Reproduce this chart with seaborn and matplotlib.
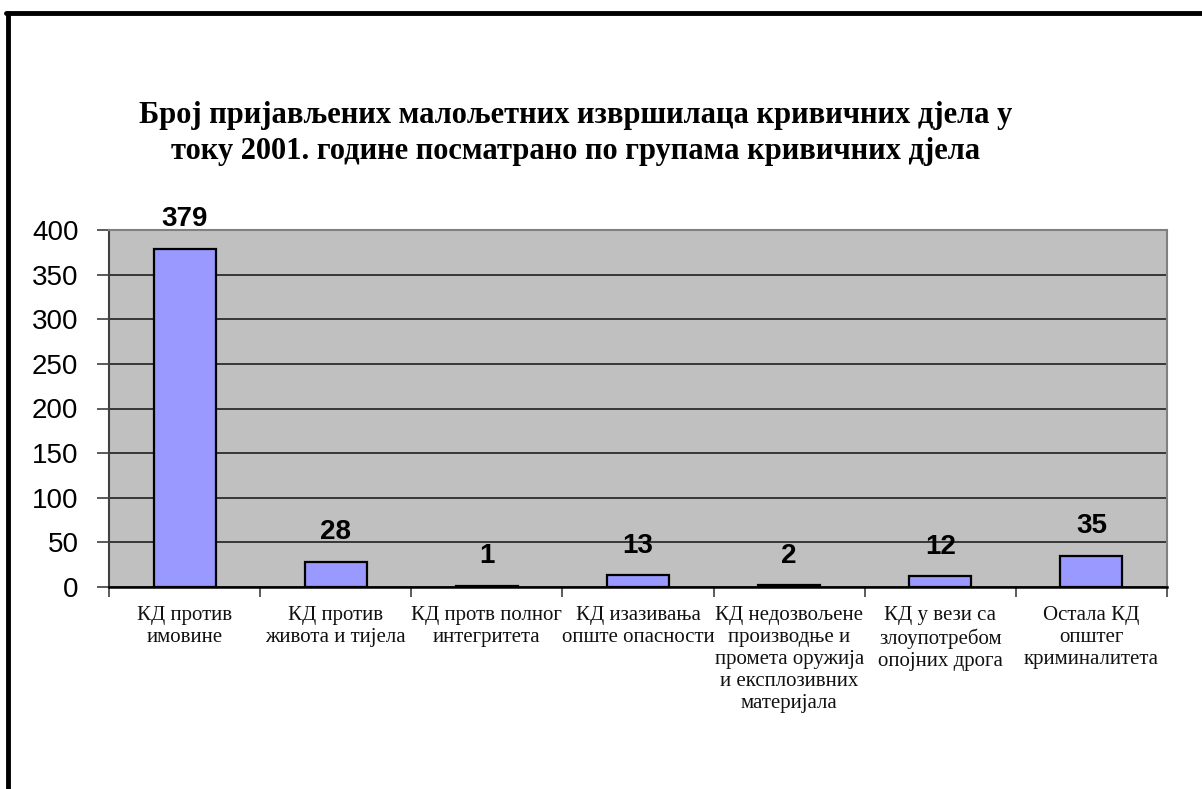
import numpy as np
import matplotlib
matplotlib.use("Agg")
import matplotlib.pyplot as plt
import seaborn as sns
from matplotlib.lines import Line2D

# podaci
categories = [
    "КД против\nимовине",
    "КД против\nживота и тијела",
    "КД протв полног\nинтегритета",
    "КД изазивања\nопште опасности",
    "КД недозвољене\nпроизводње и\nпромета оружија\nи експлозивних\nматеријала",
    "КД у вези са\nзлоупотребом\nопојних дрога",
    "Остала КД\nопштег\nкриминалитета",
]
values = [379, 28, 1, 13, 2, 12, 35]
y_ticks = [0, 50, 100, 150, 200, 250, 300, 350, 400]
title = ("Број пријављених малољетних извршилаца кривичних дјела у\n"
         "току 2001. године посматрано по групама кривичних дјела")

sns.set_style("white")
plt.rcParams['font.family'] = ['Liberation Sans', 'DejaVu Sans']
plt.rcParams['text.color'] = 'black'
plt.rcParams['xtick.color'] = 'black'
plt.rcParams['ytick.color'] = 'black'

W, H = 1202, 789
fig = plt.figure(figsize=(W / 100, H / 100), dpi=100)
ax = fig.add_axes([109 / W, 1 - 587 / H, (1167 - 109) / W, (587 - 230) / H])
ax.set_facecolor("#C0C0C0")

sns.barplot(x=list(range(len(values))), y=values, color="#9999FF", saturation=1,
            edgecolor="black", linewidth=1.6, width=0.41, ax=ax, zorder=3)

ax.set_ylim(0, 400)
ax.set_xlim(-0.5, len(values) - 0.5)
ax.set_yticks(y_ticks)
ax.yaxis.grid(True, color="#202020", linewidth=1.2, zorder=1)
ax.set_axisbelow(True)
ax.tick_params(axis="y", labelsize=20, length=9, width=1.2, color="#404040",
               pad=13, left=True, labelcolor="black")

# x kategorije
ax.set_xticks(range(len(values)))
ax.set_xticklabels(categories, family=["Liberation Serif", "DejaVu Serif"],
                   fontsize=15, linespacing=1.2, va="top", color="#111111")
ax.tick_params(axis="x", length=0, pad=14)
ax.set_xticks(np.arange(-0.5, len(values), 1.0), minor=True)
ax.tick_params(axis="x", which="minor", length=7, width=1.2, color="#404040",
               bottom=True)
ax.set_xlabel("")
ax.set_ylabel("")

for s in ["top", "right"]:
    ax.spines[s].set_color("#808080")
    ax.spines[s].set_linewidth(1.5)
ax.spines["left"].set_color("#404040")
ax.spines["left"].set_linewidth(1.5)
ax.spines["bottom"].set_color("black")
ax.spines["bottom"].set_linewidth(1.8)

# oznake vrijednosti
for i, v in enumerate(values):
    ax.annotate(str(v), (i, v), xytext=(0, 12), textcoords="offset points",
                ha="center", va="bottom", fontsize=20, fontweight="semibold",
                color="black", zorder=5)

fig.text(576 / W, 1 - 101 / H, title, ha="center", va="top",
         family=["Liberation Serif", "DejaVu Serif"], fontsize=22,
         fontweight="bold", linespacing=1.3, color="black")

# okvir slike (lijevo i gore)
fig.add_artist(Line2D([8 / W, 8 / W], [0, 1 - 13 / H], color="black",
                      linewidth=3.5, transform=fig.transFigure))
fig.add_artist(Line2D([6 / W, 1], [1 - 13 / H, 1 - 13 / H], color="black",
                      linewidth=3.5, transform=fig.transFigure))

fig.savefig("out.png", dpi=100)
